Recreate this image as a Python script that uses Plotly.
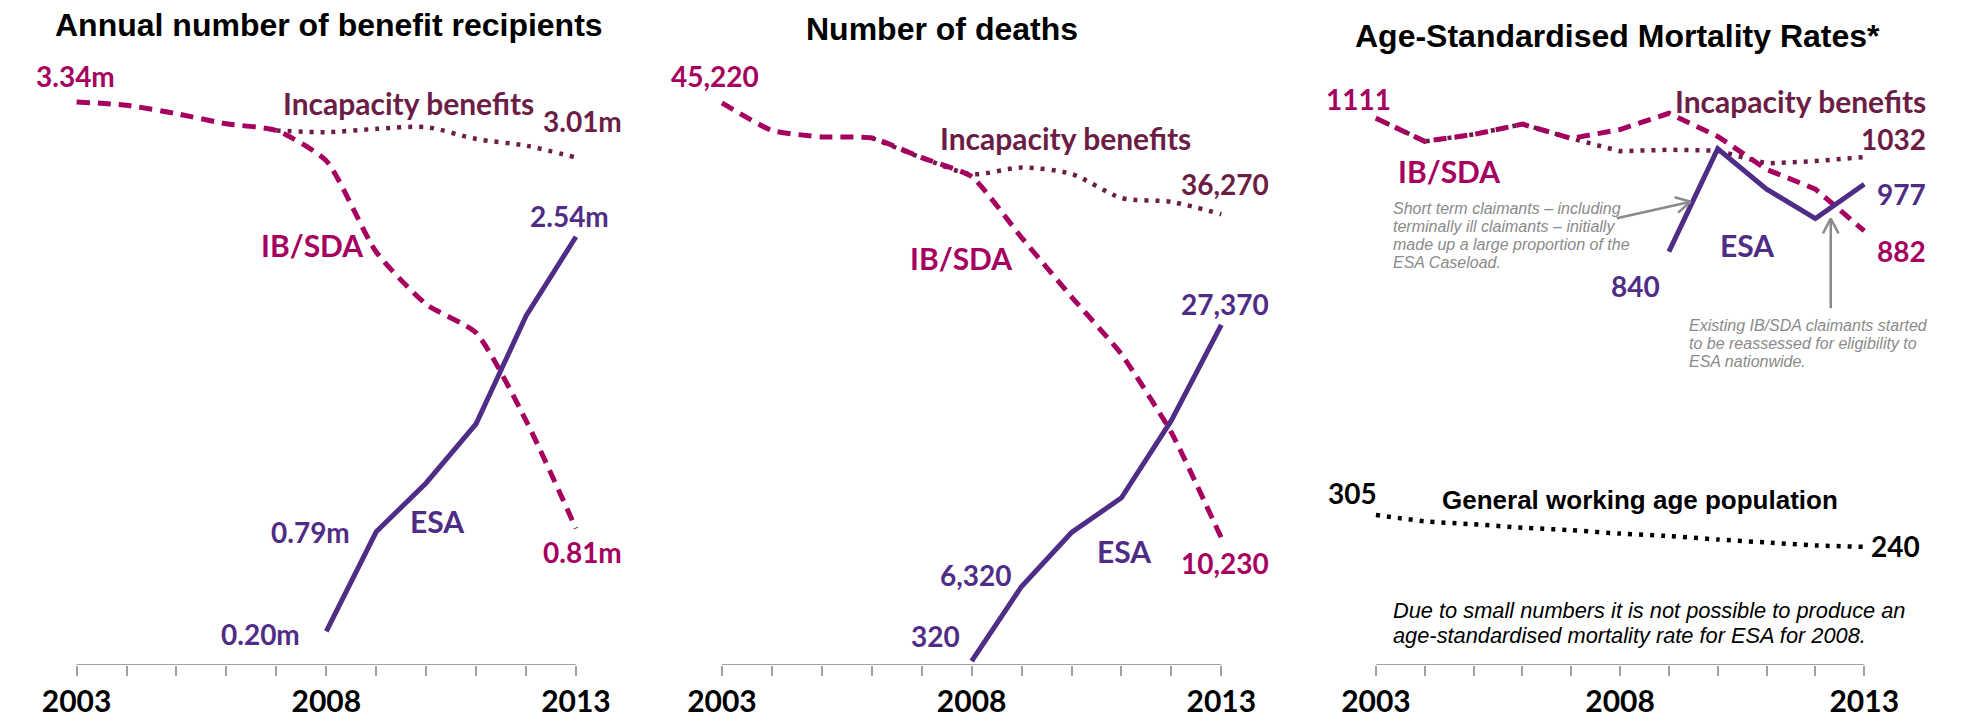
import math
import plotly.graph_objects as go

# ---------------- data ----------------
years = list(range(2003, 2014))
esa_years = list(range(2008, 2014))
esa_years_asmr = list(range(2009, 2014))
tick_labels = ["2003", "", "", "", "", "2008", "", "", "", "", "2013"]

# Annual number of benefit recipients (millions)
ib_recipients = [3.34, 3.32, 3.27, 3.21, 3.17, 2.99, 2.45, 2.14, 1.97, 1.45, 0.81]
total_recipients = [3.34, 3.32, 3.27, 3.21, 3.17, 3.16, 3.18, 3.19, 3.12, 3.08, 3.01]
esa_recipients = [0.20, 0.79, 1.08, 1.43, 2.07, 2.54]

# Number of deaths
ib_deaths = [45220, 43010, 42490, 42410, 40820, 39300, 34390, 29620, 25000, 18700, 10230]
total_deaths = [45220, 43010, 42490, 42410, 40820, 39490, 40020, 39510, 37580, 37260, 36270]
esa_deaths = [320, 6320, 10660, 13450, 19680, 27370]

# Age-standardised mortality rates
ib_asmr = [1111, 1064, 1078, 1099, 1070, 1088, 1121, 1074, 1007, 967, 882]
total_asmr = [1111, 1064, 1078, 1099, 1070, 1044, 1047, 1045, 1019, 1024, 1032]
esa_asmr = [840, 1049, 967, 907, 977]
general_asmr = [305, 292, 286, 279, 274, 267, 262, 255, 249, 243, 240]

# ---------------- styles ----------------
W, H = 1968, 718
C_IB = "#A5005F"
C_TOT = "#6B1D46"
C_ESA = "#4F2D86"
C_GRAY = "#8A8A8A"
C_AXIS = "#A0A0A0"
LBL = "Lato"
TITLE = "Liberation Sans, Arial, sans-serif"
DASH = "13px,8px"
DOT = "4px,7px"

def px(x):
    return x / W

def py(y):
    return 1 - y / H

Y0 = 672.5     # pixel row of the zero line / axis
YTOP = 50      # pixel row of top of plot area
PAD = 0.25     # years of padding either side

panels = [
    # (x px of 2003, x px of 2013, px per unit value)
    (54.9, 566.2, 170.5),
    (715.7, 1227.0, 0.012569),
    (1385.3, 1885.3, 0.4977),
]

fig = go.Figure()
layout = dict(
    width=W, height=H, margin=dict(l=0, r=0, t=0, b=0),
    paper_bgcolor="white", plot_bgcolor="white", showlegend=False,
)
shapes = []
annotations = []

for i, (x0, x1, slope) in enumerate(panels):
    n = "" if i == 0 else str(i + 1)
    ppy = (x1 - x0) / 10
    layout["xaxis" + n] = dict(
        domain=[px(x0 - PAD * ppy), px(x1 + PAD * ppy)],
        range=[2003 - PAD, 2013 + PAD],
        anchor="y" + n, showgrid=False, zeroline=False, showline=False,
        ticks="outside", ticklen=10, tickwidth=2, tickcolor=C_AXIS,
        tickvals=years, ticktext=tick_labels,
        tickfont=dict(family=LBL, size=30, color="black", weight="bold"),
    )
    layout["yaxis" + n] = dict(
        domain=[py(Y0), py(YTOP)],
        range=[0, (Y0 - YTOP) / slope],
        anchor="x" + n, visible=False, showgrid=False, zeroline=False,
    )
    shapes.append(dict(type="line", xref="x" + n, yref="y" + n,
                       x0=2003, x1=2013, y0=0, y1=0,
                       line=dict(color=C_AXIS, width=2)))

def line(xs, ys, color, dash, ax, shape="linear", width=5, smoothing=1.0):
    fig.add_trace(go.Scatter(
        x=xs, y=ys, mode="lines", xaxis="x" + ax, yaxis="y" + ax,
        line=dict(color=color, width=width, dash=dash, shape=shape,
                  smoothing=smoothing),
        hoverinfo="skip"))

# panel 1 (total line only visible once it departs from IB/SDA)
line(years[4:], total_recipients[4:], C_TOT, DOT, "", "spline", 4.5, 0.8)
line(years, ib_recipients, C_IB, DASH, "", "spline", 5, 0.6)
line(esa_years, esa_recipients, C_ESA, None, "", "linear", 5)
# panel 2
line(years[3:], total_deaths[3:], C_TOT, DOT, "2", "spline", 4.5, 0.8)
line(years, ib_deaths, C_IB, DASH, "2", "spline", 5, 0.5)
line(esa_years, esa_deaths, C_ESA, None, "2", "linear", 5)
# panel 3
line(years, total_asmr, C_TOT, DOT, "3", "linear", 4.5)
line(years, ib_asmr, C_IB, DASH, "3", "linear", 5)
line(esa_years_asmr, esa_asmr, C_ESA, None, "3", "linear", 5)
line(years, general_asmr, "black", DOT, "3", "spline", 4.5, 0.5)

def vlabel(ax, x, y, text, color, xanchor="center", xshift=0, yshift=0, size=28):
    annotations.append(dict(
        xref="x" + ax, yref="y" + ax, x=x, y=y, text="<b>%s</b>" % text,
        showarrow=False, xanchor=xanchor, yanchor="middle",
        xshift=xshift, yshift=yshift,
        font=dict(family=LBL, size=size, color=color)))

def plabel(x, y, text, color, size=28, family=LBL, xanchor="center", bold=True, italic=False):
    t = text
    if bold:
        t = "<b>%s</b>" % t
    if italic:
        t = "<i>%s</i>" % t
    annotations.append(dict(
        xref="paper", yref="paper", x=px(x), y=py(y), text=t,
        showarrow=False, xanchor=xanchor, yanchor="middle",
        font=dict(family=family, size=size, color=color)))

fm = lambda v: "%.2fm" % v
fd = lambda v: "{:,}".format(v)

# panel 1 value labels
vlabel("", years[0], ib_recipients[0], fm(ib_recipients[0]), C_IB, xshift=-1, yshift=26)
vlabel("", years[-1], total_recipients[-1], fm(total_recipients[-1]), C_TOT, xshift=7, yshift=37)
vlabel("", esa_years[-1], esa_recipients[-1], fm(esa_recipients[-1]), C_ESA, xshift=-6, yshift=21)
vlabel("", years[-1], ib_recipients[-1], fm(ib_recipients[-1]), C_IB, xshift=7, yshift=-24)
vlabel("", esa_years[1], esa_recipients[1], fm(esa_recipients[1]), C_ESA, "right", -24, 0)
vlabel("", esa_years[0], esa_recipients[0], fm(esa_recipients[0]), C_ESA, "right", -24.6, -3)
# panel 2 value labels
vlabel("2", years[0], ib_deaths[0], fd(ib_deaths[0]), C_IB, xshift=-7, yshift=27)
vlabel("2", years[-1], total_deaths[-1], fd(total_deaths[-1]), C_TOT, xshift=4, yshift=30)
vlabel("2", esa_years[-1], esa_deaths[-1], fd(esa_deaths[-1]), C_ESA, xshift=4, yshift=20.5)
vlabel("2", years[-1], ib_deaths[-1], fd(ib_deaths[-1]), C_IB, xshift=4, yshift=-25)
vlabel("2", esa_years[1], esa_deaths[1], fd(esa_deaths[1]), C_ESA, "right", -7.5, 11.4)
vlabel("2", esa_years[0], esa_deaths[0], fd(esa_deaths[0]), C_ESA, "right", -9.4, 25.5)
# panel 3 value labels
vlabel("3", years[0], ib_asmr[0], str(ib_asmr[0]), C_IB, xshift=-17.8, yshift=19.5)
vlabel("3", years[-1], total_asmr[-1], str(total_asmr[-1]), C_TOT, "left", -5.3, 18)
vlabel("3", esa_years_asmr[-1], esa_asmr[-1], str(esa_asmr[-1]), C_ESA, "left", 11, -9.7)
vlabel("3", years[-1], ib_asmr[-1], str(ib_asmr[-1]), C_IB, "left", 11, -20.5)
vlabel("3", esa_years_asmr[0], esa_asmr[0], str(esa_asmr[0]), C_ESA, xshift=-33, yshift=-34.6)
vlabel("3", years[0], general_asmr[0], str(general_asmr[0]), "black", xshift=-23, yshift=21.7)
vlabel("3", years[-1], general_asmr[-1], str(general_asmr[-1]), "black", "left", 4.7, 1)

# titles
plabel(313, 25, "Annual number of benefit recipients", "black", 32, TITLE)
plabel(940.6, 29, "Number of deaths", "black", 32, TITLE)
plabel(1633, 36, "Age-Standardised Mortality Rates*", "black", 32, TITLE)

# series names
plabel(394.5, 104, "Incapacity benefits", C_TOT, 30)
plabel(296, 248, "IB/SDA", C_IB, 30)
plabel(424, 527, "ESA", C_ESA, 30)
plabel(1067, 140, "Incapacity benefits", C_TOT, 30)
plabel(960.5, 261, "IB/SDA", C_IB, 30)
plabel(1127.5, 557, "ESA", C_ESA, 30)
plabel(1819.6, 102, "Incapacity benefits", C_TOT, 30)
plabel(1460.5, 173, "IB/SDA", C_IB, 30)
plabel(1765.5, 248, "ESA", C_ESA, 30)
plabel(1656, 506, "General working age population", "black", 26, TITLE)

# notes
note1 = ["Short term claimants \u2013 including", "terminally ill claimants \u2013 initially",
         "made up a large proportion of the", "ESA Caseload."]
for k, t in enumerate(note1):
    plabel(1400.6, 211 + 18.3 * k, t, C_GRAY, 16, TITLE, "left", bold=False, italic=True)
note2 = ["Existing IB/SDA claimants started", "to be reassessed for eligibility to",
         "ESA nationwide."]
for k, t in enumerate(note2):
    plabel(1704.3, 329 + 18.3 * k, t, C_GRAY, 16, TITLE, "left", bold=False, italic=True)
note3 = ["Due to small numbers it is not possible to produce an",
         "age-standardised mortality rate for ESA for 2008."]
for k, t in enumerate(note3):
    plabel(1400.6, 617 + 25.6 * k, t, "black", 21.8, TITLE, "left", bold=False, italic=True)

# arrows (shaft + open chevron head)
def arrow(tx, ty, hx, hy, arm=17, ang=28):
    a = math.atan2(ty - hy, tx - hx)
    r = math.radians(ang)
    p1 = (hx + arm * math.cos(a + r), hy + arm * math.sin(a + r))
    p2 = (hx + arm * math.cos(a - r), hy + arm * math.sin(a - r))
    for (ax_, ay_, bx_, by_) in [(tx, ty, hx, hy), (p1[0], p1[1], hx, hy), (p2[0], p2[1], hx, hy)]:
        shapes.append(dict(type="line", xref="paper", yref="paper",
                           x0=px(ax_), y0=py(ay_), x1=px(bx_), y1=py(by_),
                           line=dict(color=C_GRAY, width=2.5)))

arrow(1632, 220.7, 1707.6, 204)
arrow(1851, 311.7, 1851, 221)

layout["shapes"] = shapes
layout["annotations"] = annotations
fig.update_layout(**layout)
fig.write_html("out.html")
